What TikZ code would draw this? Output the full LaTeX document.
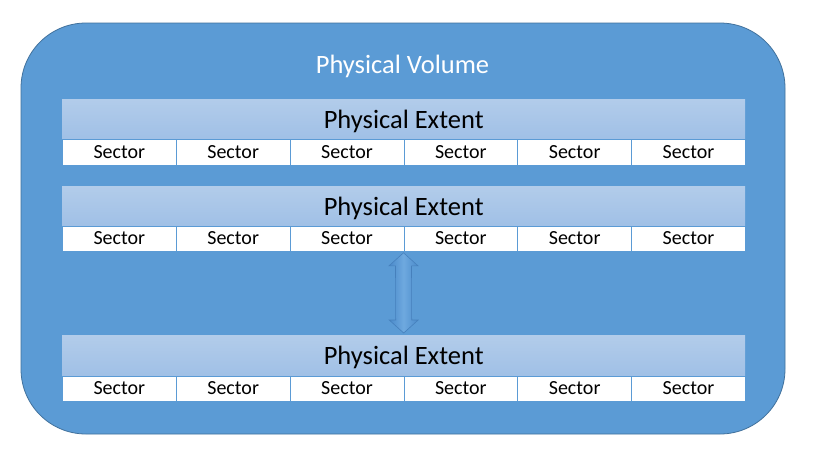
\documentclass[tikz,border=0pt]{standalone}
\usepackage{fontspec}
\setmainfont{Carlito}
\usetikzlibrary{calc}
\definecolor{pvfill}{HTML}{5B9BD5}
\definecolor{pvline}{HTML}{41719C}
\definecolor{hdtop}{HTML}{B2CCEA}
\definecolor{hdbot}{HTML}{A0C0E6}
\definecolor{arrside}{HTML}{4A8ACA}
\definecolor{arrmid}{HTML}{6EA9DF}
\definecolor{arrline}{HTML}{4680BC}
\tikzset{
  pvbox/.style={draw=pvline, fill=pvfill, line width=0.8pt, rounded corners=65pt, inner sep=0pt},
  pvtitle/.style={text=white, inner sep=0pt, font=\fontsize{26.5}{30}\selectfont},
  header/.style={top color=hdtop, bottom color=hdbot, minimum width=683pt, inner sep=0pt,
    text height=18pt, text depth=0pt, font=\fontsize{26.5}{30}\selectfont},
  sector/.style={draw=pvfill, fill=white, line width=0.8pt, minimum width=113.833pt, inner sep=0pt,
    text height=13pt, text depth=1pt, font=\fontsize{20}{24}\selectfont},
  arrowshape/.style={left color=arrside, right color=arrside, middle color=arrmid, draw=arrline, line width=0.6pt}
}
\begin{document}
\begin{tikzpicture}[x=1pt,y=-1pt]
\useasboundingbox (0,0) rectangle (824,453);
\fill[white] (0,0) rectangle (824,453);
\node[pvbox, minimum width=764pt, minimum height=411pt] (pv) at (403,228.5) {};
\node[pvtitle, anchor=base] (pvt) at (402.5,73) {Physical Volume};
\foreach \bi/\btop/\bhh/\bsh in {1/99/40/26,2/186/40/25,3/335/41/25}{
  \node[header, minimum height=\bhh pt, anchor=north west] (h\bi) at (62,\btop) {Physical Extent};
  \foreach \bj in {1,...,6}{
    \node[sector, minimum height=\bsh pt, anchor=north west] (s\bi-\bj) at ({62+(\bj-1)*113.833}, {\btop+\bhh}) {Sector};
  }
}
\coordinate (at) at ($(s2-4.south west)+(0,1)$);
\coordinate (ab) at ($(h3.north)+(0,-2)$);
\shade[arrowshape] (at) -- ($(at)+(14.5,13)$) -- ($(at)+(8,13)$) -- ($(ab)+(8,-13)$) -- ($(ab)+(14.5,-13)$) -- (ab)
  -- ($(ab)+(-14.5,-13)$) -- ($(ab)+(-8,-13)$) -- ($(at)+(-8,13)$) -- ($(at)+(-14.5,13)$) -- cycle;
\end{tikzpicture}
\end{document}
